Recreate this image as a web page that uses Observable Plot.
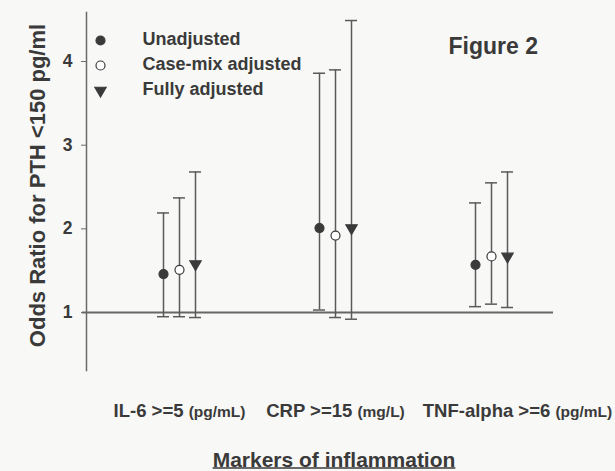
<!DOCTYPE html>
<html>
<head>
<meta charset="utf-8">
<script src="https://cdn.jsdelivr.net/npm/d3@7"></script>
<script src="https://cdn.jsdelivr.net/npm/@observablehq/plot@0.6"></script>
<style>
  html, body { margin: 0; padding: 0; background: #f8f8f7; }
  #chart svg { display: block; font-family: "Liberation Sans", Arial, sans-serif; }
</style>
</head>
<body>
<div id="chart"></div>
<script>
const categories = ["IL-6 >=5 (pg/mL)", "CRP >=15 (mg/L)", "TNF-alpha >=6 (pg/mL)"];
const seriesNames = ["Unadjusted", "Case-mix adjusted", "Fully adjusted"];
const yTicks = [1, 2, 3, 4];
const xTitle = "Markers of inflammation";
const yTitle = "Odds Ratio for PTH <150 pg/ml";

const orUnadj = [1.46, 2.01, 1.57];
const loUnadj = [0.95, 1.03, 1.07];
const hiUnadj = [2.19, 3.86, 2.31];

const orCase = [1.51, 1.92, 1.67];
const loCase = [0.95, 0.94, 1.10];
const hiCase = [2.37, 3.90, 2.55];

const orFull = [1.58, 2.01, 1.67];
const loFull = [0.94, 0.92, 1.06];
const hiFull = [2.68, 4.49, 2.68];

const ink = "#3a3a3a";
const lineCol = "#5a5a5a";

function rows(ors, los, his) {
  return categories.map((c, i) => ({cat: c, or: ors[i], lo: los[i], hi: his[i]}));
}
const groups = [
  {name: seriesNames[0], data: rows(orUnadj, loUnadj, hiUnadj), dx: -16, symbol: "circle", fill: ink, r: 4.5, rotate: 0},
  {name: seriesNames[1], data: rows(orCase, loCase, hiCase), dx: 0, symbol: "circle", fill: "white", r: 4.5, rotate: 0},
  {name: seriesNames[2], data: rows(orFull, loFull, hiFull), dx: 16, symbol: "triangle", fill: ink, r: 4.2, rotate: 180}
];

const marks = [
  Plot.frame({anchor: "left", stroke: "#6a6a6a", strokeWidth: 1.5}),
  Plot.ruleY([1], {stroke: "#666", strokeWidth: 2, insetLeft: -4}),
  Plot.axisY(yTicks, {tickSize: 5, tickPadding: 9, fontSize: 17.5, fontWeight: "bold", fill: ink, stroke: "#6a6a6a", label: null, tickFormat: d3.format("d")}),
  Plot.axisX({tickSize: 0, tickPadding: 33, fontSize: 18.5, fontWeight: "bold", fill: ink, label: null, tickFormat: d => d})
];

for (const g of groups) {
  marks.push(
    Plot.ruleX(g.data, {x: "cat", y1: "lo", y2: "hi", dx: g.dx, stroke: lineCol, strokeWidth: 1.5}),
    Plot.tickY(g.data, {x: "cat", y: "hi", dx: g.dx, insetLeft: 72, insetRight: 72, stroke: lineCol, strokeWidth: 1.5}),
    Plot.tickY(g.data, {x: "cat", y: "lo", dx: g.dx, insetLeft: 72, insetRight: 72, stroke: lineCol, strokeWidth: 1.5}),
    Plot.dot(g.data, {x: "cat", y: "or", dx: g.dx, symbol: g.symbol, r: g.r, rotate: g.rotate, fill: g.fill, stroke: ink, strokeWidth: 1.2})
  );
}

// legend
groups.forEach((g, i) => {
  marks.push(
    Plot.dot([g.name], {frameAnchor: "top-left", dx: 14, dy: 28 + 25 * i, symbol: g.symbol, r: g.r, rotate: g.rotate, fill: g.fill, stroke: ink, strokeWidth: 1.2}),
    Plot.text([g.name], {frameAnchor: "top-left", dx: 56, dy: 27 + 25 * i, text: d => d, textAnchor: "start", lineAnchor: "middle", fontSize: 18, fontWeight: "bold", fill: ink})
  );
});

marks.push(
  Plot.text(["Figure 2"], {frameAnchor: "top-left", dx: 362, dy: 34, text: d => d, textAnchor: "start", lineAnchor: "middle", fontSize: 23, fontWeight: "bold", fill: ink}),
  Plot.text([yTitle], {frameAnchor: "left", dx: -42, dy: -6, rotate: -90, text: d => d, textAnchor: "middle", lineAnchor: "bottom", fontSize: 22, fontWeight: "bold", fill: ink}),
  Plot.text([xTitle], {frameAnchor: "bottom", dx: 14, dy: 96, text: d => d, textAnchor: "middle", lineAnchor: "bottom", fontSize: 21, fontWeight: "bold", fill: ink})
);

const chart = Plot.plot({
  width: 615,
  height: 471,
  marginTop: 12,
  marginBottom: 101,
  marginLeft: 86,
  marginRight: 62,
  style: {background: "#f8f8f7", fontFamily: "'Liberation Sans', Arial, sans-serif"},
  x: {type: "band", domain: categories, range: [101, 569], padding: 0},
  y: {domain: [0.307, 4.586]},
  marks
});

// category labels: smaller unit part
d3.select(chart).selectAll('g[aria-label="x-axis tick label"] text').each(function(_, i) {
  const t = d3.select(this);
  const s = t.text();
  const k = s.indexOf(" (");
  if (k < 0) return;
  t.text(null);
  t.append("tspan").text(s.slice(0, k + 1));
  t.append("tspan").attr("font-size", 15.5).text(s.slice(k + 1));
  if (i === categories.length - 1) t.attr("dx", 26);
});

document.getElementById("chart").appendChild(chart);

// underline the x title
d3.select(chart).selectAll("text").filter(function() { return this.textContent === xTitle; }).each(function() {
  const b = this.getBBox();
  const ctm = this.getCTM();
  const svg = this.ownerSVGElement;
  const p1 = svg.createSVGPoint(); p1.x = b.x; p1.y = b.y + b.height;
  const p2 = svg.createSVGPoint(); p2.x = b.x + b.width; p2.y = b.y + b.height;
  const s = ctm.inverse ? this.getCTM() : null;
  const screenToSvg = svg.getCTM().inverse();
  const q1 = p1.matrixTransform(ctm).matrixTransform(screenToSvg);
  const q2 = p2.matrixTransform(ctm).matrixTransform(screenToSvg);
  d3.select(svg).append("line")
    .attr("x1", q1.x).attr("x2", q2.x)
    .attr("y1", q1.y - 2.5).attr("y2", q2.y - 2.5)
    .attr("stroke", ink).attr("stroke-width", 1.6);
});
</script>
</body>
</html>
